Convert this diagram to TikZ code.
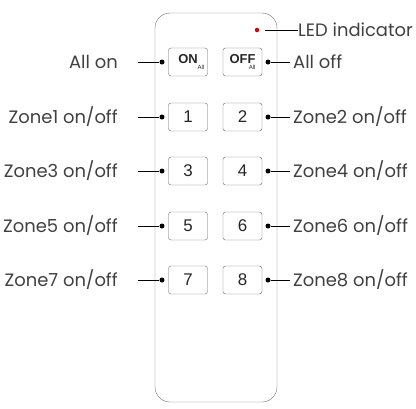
\documentclass[tikz,border=0pt]{standalone}
\usepackage{fontspec}
\setmainfont{Poppins}
\newfontfamily\keyfont{Liberation Sans}
\usetikzlibrary{positioning}

\begin{document}
\begin{tikzpicture}[x=1bp,y=-1bp,
    key/.style={draw=black!60, rounded corners=2.5bp, minimum width=39bp, minimum height=28bp,
      font=\keyfont\fontsize{17}{17}\selectfont, text=black!85},
    allkey/.style={key, font=\keyfont\bfseries\fontsize{13}{13}\selectfont},
    lbl/.style={font=\fontsize{18}{20}\selectfont, text=black!75},
    lblleft/.style={lbl, anchor=east, inner xsep=20bp},
    lblright/.style={lbl, anchor=west, inner xsep=3bp},
    pin/.style={circle, fill=black, inner sep=0pt, minimum size=5bp}]
  \useasboundingbox (0,0) rectangle (416,409);

  % remote body
  \draw[black!55, rounded corners=15bp] (155,13) rectangle (277,402);

  % led
  \node[circle, fill=red!85!black, inner sep=0pt, minimum size=4.5bp] (led) at (257,30) {};
  \node[lblright, inner xsep=0pt] (ledlbl) at (298,30) {LED indicator};
  \draw[shorten <=6bp] (led) -- (ledlbl);

  % all on / all off
  \newcommand\allmark{\raisebox{-6bp}{\mdseries\fontsize{6}{6}\selectfont All}}
  \node[allkey] (on) at (188,62) {ON\rlap{\allmark}\hspace{6bp}};
  \node[allkey] (off) at (242.5,62) {OFF\makebox[0pt][r]{\allmark}};
  \node[pin] (pon) at (162,62) {};
  \node[pin] (poff) at (268,62) {};
  \node[lblleft] (lon) at (138,62) {All on};
  \node[lblright] (loff) at (290,62) {All off};
  \draw (lon) -- (pon);
  \draw (poff) -- (loff);

  % zone keys
  \foreach \r/\y in {1/117,2/171,3/226,4/280} {
    \pgfmathtruncatemacro\a{2*\r-1}
    \pgfmathtruncatemacro\b{2*\r}
    \node[key] (k\a) at (188,\y) {\a};
    \node[key] (k\b) at (242.5,\y) {\b};
    \node[pin] (p\a) at (162,\y) {};
    \node[pin] (p\b) at (268,\y) {};
    \node[lblleft] (l\a) at (138,\y) {Zone\a{} on/off};
    \node[lblright] (l\b) at (290,\y) {Zone\b{} on/off};
    \draw (l\a) -- (p\a);
    \draw (p\b) -- (l\b);
  }
\end{tikzpicture}
\end{document}
